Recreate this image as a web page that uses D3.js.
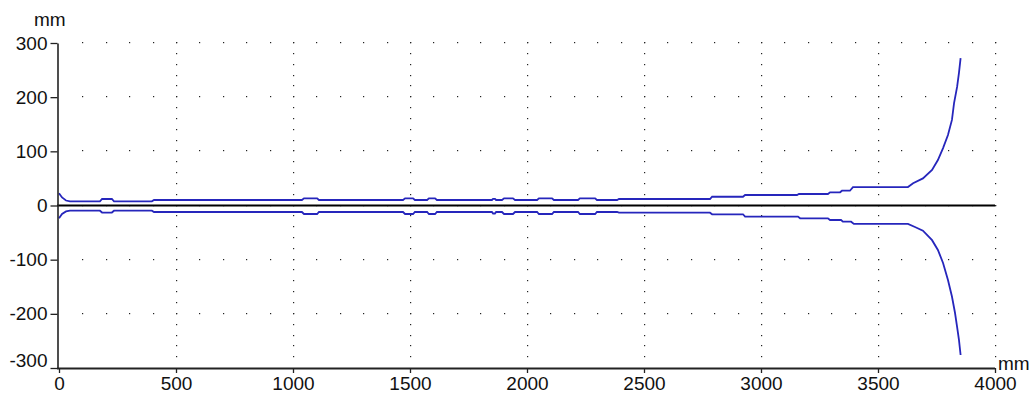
<!DOCTYPE html>
<html>
<head>
<meta charset="utf-8">
<script src="https://cdn.jsdelivr.net/npm/d3@7"></script>
<style>
  body { margin: 0; background: #fff; }
  svg { display: block; }
  .tick text { font-family: "Liberation Sans", Arial, sans-serif; font-size: 19px; fill: #111; }
  .unit { font-family: "Liberation Sans", Arial, sans-serif; font-size: 19px; fill: #111; }
</style>
</head>
<body>
<svg id="chart"></svg>
<script>
// x ticks (mm along the axis) and y ticks (mm)
var xTicks = [0, 500, 1000, 1500, 2000, 2500, 3000, 3500, 4000];
var yTicks = [-300, -200, -100, 0, 100, 200, 300];

// upper envelope
var upperX = [0, 13, 30, 47, 175, 184, 226, 235, 397, 406, 1038, 1047, 1103, 1111,
  1470, 1479, 1513, 1521, 1573, 1581, 1607, 1615, 1850, 1855, 1863, 1868,
  1893, 1902, 1940, 1949, 2043, 2051, 2107, 2115, 2218, 2226, 2291, 2299,
  2385, 2393, 2782, 2791, 2923, 2932, 3154, 3162, 3286, 3295, 3338, 3346,
  3380, 3393, 3628, 3650, 3692, 3731, 3756, 3778, 3799, 3816, 3825, 3838, 3846, 3853];
var upperY = [22.5, 14.8, 9.2, 7.8, 7.8, 12, 12, 7.8, 7.8, 10.2, 10.2, 13.3, 13.3, 10.2,
  10.2, 13.3, 13.3, 10.2, 10.2, 13.3, 13.3, 10.2, 10.2, 12.4, 12.4, 10.2,
  10.2, 13.3, 13.3, 10.2, 10.2, 13.3, 13.3, 10.2, 10.2, 13.3, 13.3, 10.2,
  10.2, 12, 12, 16.2, 16.2, 19.4, 19.4, 21.2, 21.2, 24.4, 24.4, 27.3,
  27.3, 34, 34, 41, 50, 65.5, 84, 106, 130, 158, 189, 219, 245, 272];

// lower envelope
var lowerX = [0, 13, 30, 47, 175, 184, 226, 235, 397, 406, 1038, 1047, 1103, 1111,
  1470, 1479, 1513, 1521, 1573, 1581, 1607, 1615, 1850, 1855, 1863, 1868,
  1893, 1902, 1940, 1949, 2043, 2051, 2107, 2115, 2218, 2226, 2291, 2299,
  2385, 2393, 2782, 2791, 2923, 2932, 3158, 3167, 3286, 3295, 3342, 3350,
  3385, 3397, 3628, 3658, 3692, 3731, 3756, 3778, 3799, 3816, 3829, 3838, 3846, 3853];
var lowerY = [-23.6, -15.7, -11, -9.6, -9.6, -13, -13, -9.6, -9.6, -12, -12, -15.7, -15.7, -12,
  -12, -15.7, -15.7, -12, -12, -15.7, -15.7, -12, -12, -14.8, -14.8, -12,
  -12, -15.7, -15.7, -12, -12, -15.7, -15.7, -12, -12, -15.7, -15.7, -12,
  -12, -13.3, -13.3, -16.2, -16.2, -20.6, -20.6, -23.6, -23.6, -26.8, -26.8, -29.9,
  -29.9, -34, -34, -39.7, -46.5, -64, -82, -106, -137.5, -168, -198, -224, -248, -276];

var width = 1032, height = 398;

var svg = d3.select("#chart")
  .attr("width", width)
  .attr("height", height);

var x = d3.scaleLinear().domain([0, 4000]).range([59, 995]);
var y = d3.scaleLinear().domain([-300, 300]).range([368, 43]);

// plain integers with an ascii hyphen, no thousands comma
var plain = function(d) { return String(d); };

// dotted grid: rows every 100 mm in y, dots every 100 mm in x
var grid = svg.append("g").attr("fill", "#222");
var gx = d3.range(100, 4001, 100);
yTicks.filter(function(d) { return d > -300; }).forEach(function(yv) {
  grid.selectAll(null).data(gx).enter().append("rect")
    .attr("x", function(d) { return Math.round(x(d)); })
    .attr("y", Math.round(y(yv)) - 1)
    .attr("width", 1.2).attr("height", 1.2);
});
// columns every 500 mm, dots every 20 mm in y
var gy = d3.range(-280, 301, 20);
xTicks.filter(function(d) { return d > 0; }).forEach(function(xv) {
  grid.selectAll(null).data(gy).enter().append("rect")
    .attr("x", Math.round(x(xv)))
    .attr("y", function(d) { return Math.round(y(d)) - 1; })
    .attr("width", 1.2).attr("height", 1.2);
});

// zero line
svg.append("line")
  .attr("x1", 57).attr("x2", x(4000))
  .attr("y1", y(0)).attr("y2", y(0))
  .attr("stroke", "#000").attr("stroke-width", 2);

// envelopes
var line = d3.line()
  .x(function(d) { return x(d[0]); })
  .y(function(d) { return y(d[1]); });

function pairs(xs, ys) { return xs.map(function(v, i) { return [v, ys[i]]; }); }

svg.append("path")
  .datum(pairs(upperX, upperY))
  .attr("d", line)
  .attr("fill", "none")
  .attr("stroke", "#2626bc")
  .attr("stroke-width", 1.8);

svg.append("path")
  .datum(pairs(lowerX, lowerY))
  .attr("d", line)
  .attr("fill", "none")
  .attr("stroke", "#2626bc")
  .attr("stroke-width", 1.8);

// axes
var yAxis = svg.append("g")
  .attr("transform", "translate(57.5,0)")
  .call(d3.axisLeft(y).tickValues(yTicks).tickFormat(plain)
    .tickSize(7).tickSizeOuter(0).tickPadding(3));
yAxis.select(".domain").attr("stroke", "#222").attr("stroke-width", 1.6);
yAxis.selectAll(".tick line").attr("stroke", "#222").attr("stroke-width", 1.3);
// bottom label sits above the x axis
yAxis.selectAll(".tick").filter(function(d) { return d === -300; })
  .select("text").attr("dy", "-0.1em");

var xAxis = svg.append("g")
  .attr("transform", "translate(0,368)")
  .call(d3.axisBottom(x).tickValues(xTicks).tickFormat(plain)
    .tickSize(5).tickSizeOuter(0).tickPadding(4));
xAxis.select(".domain").attr("stroke", "#222").attr("stroke-width", 2)
  .attr("d", "M57," + 0.5 + "H" + x(4000));
xAxis.selectAll(".tick line").attr("stroke", "#222").attr("stroke-width", 1.3);

// unit labels
svg.append("text").attr("class", "unit")
  .attr("x", 34).attr("y", 26).text("mm");
svg.append("text").attr("class", "unit")
  .attr("x", 998).attr("y", 370).text("mm");
</script>
</body>
</html>
